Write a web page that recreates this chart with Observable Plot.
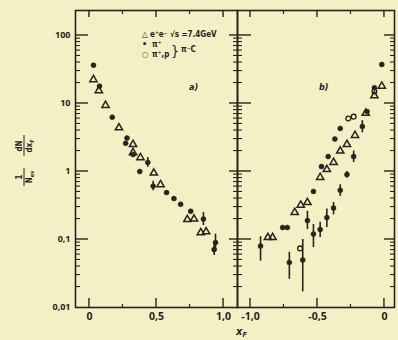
<!DOCTYPE html>
<html><head><meta charset="utf-8">
<script src="https://cdn.jsdelivr.net/npm/d3@7"></script>
<script src="https://cdn.jsdelivr.net/npm/@observablehq/plot@0.6"></script>
<style>
html,body{margin:0;padding:0;background:#f4f0c6;}
#fig{position:relative;width:398px;height:340px;background:#f4f0c6;overflow:hidden;font-family:"DejaVu Sans Condensed","DejaVu Sans",sans-serif;color:#2a221c;}
#fig svg{position:absolute;top:0;overflow:visible;}
</style></head><body><div id="fig"></div>
<script>
// ---- tick definitions ----
const yMajor = [0.01, 0.1, 1, 10, 100];
const yTickLabels = ["0,01", "0,1", "1", "10", "100"];
const yMinor = [0.01, 0.1, 1, 10].flatMap(d => [2,3,4,5,6,7,8,9].map(m => d * m));
const xMajorA = [0, 0.5, 1.0];
const xMinorA = [0.25, 0.75];
const xLabelsA = ["0", "0,5", "1,0"];
const xMajorB = [-1.0, -0.5, 0];
const xMinorB = [-0.75, -0.25];
const xLabelsB = ["-1,0", "-0,5", "0"];

// ---- panel a) x_F > 0 ----
const aTriX = [0.03, 0.07, 0.12, 0.22, 0.325, 0.325, 0.38, 0.48, 0.53, 0.73, 0.78, 0.83, 0.87];
const aTriY = [22.5, 15.5, 9.4, 4.4, 2.5, 1.9, 1.6, 0.95, 0.64, 0.197, 0.2, 0.126, 0.13];
const aDotX = [0.03, 0.075, 0.17, 0.27, 0.28, 0.325, 0.375, 0.435, 0.475, 0.575, 0.63, 0.68, 0.755, 0.85, 0.94, 0.93];
const aDotY = [36.6, 18, 6.3, 2.6, 3.1, 1.78, 1.0, 1.36, 0.61, 0.49, 0.40, 0.33, 0.26, 0.2, 0.09, 0.071];
const aErrX = [0.435, 0.475, 0.85, 0.94, 0.93];
const aErrLo = [1.15, 0.52, 0.16, 0.068, 0.058];
const aErrHi = [1.6, 0.72, 0.25, 0.12, 0.085];

// ---- panel b) x_F < 0 ----
const bTriX = [-0.02, -0.075, -0.14, -0.22, -0.28, -0.33, -0.38, -0.43, -0.48, -0.575, -0.625, -0.67, -0.835, -0.87];
const bTriY = [18, 13, 7.2, 3.4, 2.5, 2.0, 1.36, 1.07, 0.82, 0.35, 0.32, 0.25, 0.107, 0.107];
const bDotX = [-0.02, -0.075, -0.13, -0.33, -0.37, -0.42, -0.47, -0.53, -0.725, -0.76, -0.925,
               -0.165, -0.23, -0.28, -0.33, -0.38, -0.43, -0.48, -0.53, -0.575, -0.61, -0.71];
const bDotY = [37.5, 17, 7.6, 4.3, 3.0, 1.66, 1.18, 0.51, 0.15, 0.15, 0.08,
               4.6, 1.66, 0.9, 0.53, 0.29, 0.21, 0.14, 0.12, 0.19, 0.05, 0.046];
const bOpenX = [-0.075, -0.23, -0.27, -0.63];
const bOpenY = [15, 6.4, 6.0, 0.074];
const bErrX = [-0.165, -0.23, -0.28, -0.33, -0.38, -0.43, -0.48, -0.53, -0.575, -0.61, -0.71, -0.925];
const bErrLo = [3.7, 1.35, 0.8, 0.43, 0.23, 0.15, 0.107, 0.076, 0.14, 0.017, 0.026, 0.048];
const bErrHi = [5.6, 2.0, 1.0, 0.64, 0.35, 0.28, 0.18, 0.166, 0.26, 0.1, 0.065, 0.11];

const ink = "#2a221c";
const figH = 340, frameTop = 10, frameBottom = 307, xL = 75, xM = 237, xR = 394;
const yDomain = [0.01, 233];
const pts = (xs, ys) => xs.map((x, i) => ({x, y: ys[i]}));
const errs = (xs, lo, hi) => xs.map((x, i) => ({x, y1: lo[i], y2: hi[i]}));

function dataMarks(tri, dot, open, err) {
  return [
    Plot.ruleX(err, {x: "x", y1: "y1", y2: "y2", stroke: ink, strokeWidth: 1.6}),
    Plot.dot(tri, {x: "x", y: "y", symbol: "triangle", r: 2.7, stroke: ink, strokeWidth: 1.5, fill: "none"}),
    Plot.dot(dot, {x: "x", y: "y", r: 2.5, fill: ink, stroke: ink, strokeWidth: 0.5}),
    Plot.dot(open, {x: "x", y: "y", r: 2.4, fill: "none", stroke: ink, strokeWidth: 1.3}),
    Plot.frame({stroke: ink, strokeWidth: 1.6})
  ];
}

const plotA = Plot.plot({
  width: xM, height: figH, marginLeft: xL, marginRight: 0, marginTop: frameTop, marginBottom: figH - frameBottom,
  x: {domain: [-0.104, 1.104]},
  y: {type: "log", domain: yDomain},
  style: {background: "transparent", overflow: "visible", color: ink},
  marks: [
    ...dataMarks(pts(aTriX, aTriY), pts(aDotX, aDotY), [], errs(aErrX, aErrLo, aErrHi)),
    Plot.axisX(xMajorA, {tickSize: 0, tickPadding: 5, tickFormat: d => xLabelsA[xMajorA.indexOf(d)], fontSize: 10.5, fontWeight: "bold", label: null}),
    Plot.axisY(yMajor, {tickSize: 0, tickPadding: 5, tickFormat: d => yTickLabels[yMajor.indexOf(d)], fontSize: 9, fontWeight: "bold", label: null})
  ]
});
plotA.style.left = "0px";

const plotB = Plot.plot({
  width: 398 - xM, height: figH, marginLeft: 0, marginRight: 398 - xR, marginTop: frameTop, marginBottom: figH - frameBottom,
  x: {domain: [-1.097, 0.075]},
  y: {type: "log", domain: yDomain, axis: null},
  style: {background: "transparent", overflow: "visible", color: ink},
  marks: [
    ...dataMarks(pts(bTriX, bTriY), pts(bDotX, bDotY), pts(bOpenX, bOpenY), errs(bErrX, bErrLo, bErrHi)),
    Plot.axisX(xMajorB, {tickSize: 0, tickPadding: 5, tickFormat: d => xLabelsB[xMajorB.indexOf(d)], fontSize: 10.5, fontWeight: "bold", label: null})
  ]
});
plotB.style.left = xM + "px";

const fig = document.getElementById("fig");
fig.appendChild(plotA);
fig.appendChild(plotB);

// ---- annotation overlay: texts and tick marks placed with the plots' own scales ----
const ns = "http://www.w3.org/2000/svg";
const ann = document.createElementNS(ns, "svg");
ann.setAttribute("width", 398); ann.setAttribute("height", 340);
ann.style.left = "0px";
ann.innerHTML = `
<g fill="${ink}" font-family="DejaVu Sans Condensed, DejaVu Sans, sans-serif" font-weight="bold">
  <text x="142" y="36.5" font-size="8">△ e⁺e⁻  √s =7.4GeV</text>
  <text x="142" y="47" font-size="9">•</text>
  <text x="152" y="46.5" font-size="8">π⁺</text>
  <text x="142" y="56.5" font-size="8">○</text>
  <text x="152" y="56.5" font-size="8">π⁺,p</text>
  <text x="171" y="56" font-size="14" font-weight="normal">}</text>
  <text x="181" y="52" font-size="8">π⁻C</text>
  <text x="189" y="90" font-size="9" font-style="italic">a)</text>
  <text x="319" y="90" font-size="9" font-style="italic">b)</text>
  <text x="236" y="335" font-size="11" font-style="italic">x<tspan font-size="7" dy="2">F</tspan></text>
  <g transform="translate(24,160) rotate(-90)" font-size="8">
    <text x="-17" y="-2.5" text-anchor="middle">1</text>
    <line x1="-26" x2="-8" y1="0" y2="0" stroke="${ink}" stroke-width="1"/>
    <text x="-17" y="8" text-anchor="middle">N<tspan font-size="5.5" dy="1.5">ev</tspan></text>
    <text x="14" y="-2.5" text-anchor="middle">dN</text>
    <line x1="4" x2="25" y1="0" y2="0" stroke="${ink}" stroke-width="1"/>
    <text x="14" y="8" text-anchor="middle">dx<tspan font-size="5.5" dy="1.5">F</tspan></text>
  </g>
</g>`;
fig.appendChild(ann);

const sy = plotA.scale("y"), sxA = plotA.scale("x"), sxB = plotB.scale("x");
const tg = d3.select(ann).append("g").attr("stroke", ink);
function hTicks(vals, x1, x2, w) {
  tg.selectAll(null).data(vals).join("line")
    .attr("x1", x1).attr("x2", x2)
    .attr("y1", d => sy.apply(d)).attr("y2", d => sy.apply(d))
    .attr("stroke-width", w);
}
function vTicks(vals, scale, off, y1, y2, w) {
  tg.selectAll(null).data(vals).join("line")
    .attr("x1", d => scale.apply(d) + off).attr("x2", d => scale.apply(d) + off)
    .attr("y1", y1).attr("y2", y2)
    .attr("stroke-width", w);
}
const yMaj = yMajor.slice(1);
hTicks(yMaj, xL, xL + 13, 1.4);  hTicks(yMinor, xL, xL + 5, 1.1);
hTicks(yMaj, xM - 8, xM + 14, 1.4); hTicks(yMinor, xM - 4, xM + 5, 1.1);
hTicks(yMaj, xR - 10, xR, 1.4); hTicks(yMinor, xR - 4, xR, 1.1);
vTicks(xMajorA, sxA, 0, frameBottom - 9, frameBottom, 1.4);
vTicks(xMinorA, sxA, 0, frameBottom - 3, frameBottom, 1.2);
vTicks(xMajorA, sxA, 0, frameTop, frameTop + 7, 1.4);
vTicks(xMinorA, sxA, 0, frameTop, frameTop + 4, 1.2);
vTicks(xMajorB, sxB, xM, frameBottom - 9, frameBottom, 1.4);
vTicks(xMinorB, sxB, xM, frameBottom - 3, frameBottom, 1.2);
vTicks(xMajorB, sxB, xM, frameTop, frameTop + 7, 1.4);
vTicks(xMinorB, sxB, xM, frameTop, frameTop + 4, 1.2);
</script></body></html>
